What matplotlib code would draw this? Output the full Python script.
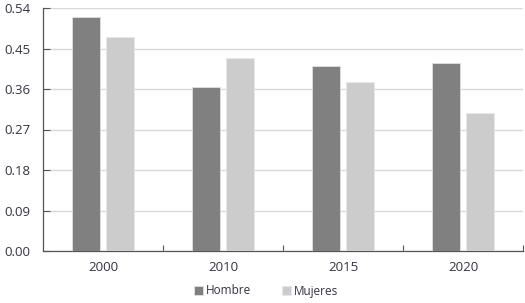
import matplotlib
matplotlib.use("Agg")
import matplotlib.pyplot as plt
import numpy as np
from matplotlib.ticker import FixedLocator

years = ["2000", "2010", "2015", "2020"]
hombre = [0.520, 0.364, 0.411, 0.417]
mujeres = [0.475, 0.429, 0.375, 0.306]
yticks = [0.00, 0.09, 0.18, 0.27, 0.36, 0.45, 0.54]

plt.rcParams['font.family'] = ['Open Sans', 'DejaVu Sans']
W, H = 525, 303
fig = plt.figure(figsize=(W/100, H/100), dpi=100)
ax = fig.add_axes([43/W, (H-251)/H, 480/W, (251-8)/H])

x = np.arange(len(years))
w = 0.233
ax.bar(x - 0.144, hombre, w, color="#808080", edgecolor="#e0e0e0", linewidth=0.6, label="Hombre", zorder=3)
ax.bar(x + 0.144, mujeres, w, color="#cccccc", edgecolor="#e8e8e8", linewidth=0.6, label="Mujeres", zorder=3)

ax.set_xlim(-0.5, 3.5)
ax.set_ylim(0, 0.54)
ax.set_yticks(yticks)
ax.set_yticklabels([f"{v:.2f}" for v in yticks])
ax.set_xticks(x)
ax.set_xticklabels(years)
ax.xaxis.set_minor_locator(FixedLocator([0.5, 1.5, 2.5, 3.5]))
ax.tick_params(axis='x', which='major', length=0, pad=7, labelsize=9.5, labelcolor="#333344")
ax.tick_params(axis='x', which='minor', length=4, direction='in', color="#555555", width=0.8)
ax.tick_params(axis='y', length=5, direction='in', color="#555555", width=0.8, labelsize=9.5,
               labelcolor="#333344", pad=9)
ax.grid(axis='y', color="#d9d9d9", linewidth=1, zorder=0)
for s in ["top", "right"]:
    ax.spines[s].set_visible(False)
for s in ["left", "bottom"]:
    ax.spines[s].set_color("#555555")
    ax.spines[s].set_linewidth(0.9)

leg = fig.legend(loc="center", bbox_to_anchor=(266/W, (H-291)/H), ncol=2, frameon=False,
                 fontsize=8.5, handlelength=0.75, handleheight=0.75, columnspacing=2.6, handletextpad=0.25)
for t in leg.get_texts():
    t.set_color("#333344")

fig.savefig("out.png", dpi=100)
